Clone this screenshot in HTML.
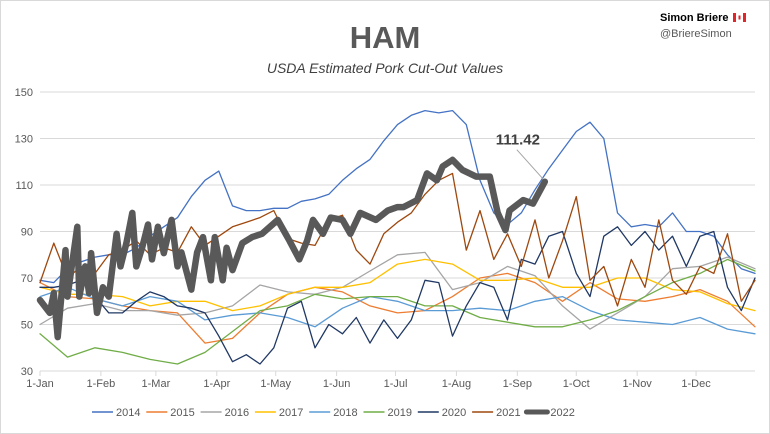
<!DOCTYPE html>
<html><head><meta charset="utf-8"><style>
body{margin:0;background:#fff;}
#wrap{position:relative;width:770px;height:434px;overflow:hidden;font-family:"Liberation Sans",sans-serif;}
</style></head><body>
<div id="wrap">
<svg id="chart" width="770" height="434">
<rect x="0.5" y="0.5" width="769" height="433" fill="#fff" stroke="#d9d9d9"/>
<text x="385" y="48" text-anchor="middle" font-size="31" font-weight="bold" fill="#595959">HAM</text>
<text x="385" y="73" text-anchor="middle" font-size="14" font-style="italic" fill="#404040">USDA Estimated Pork Cut-Out Values</text>
<text x="660" y="21" font-size="11" font-weight="bold" fill="#000">Simon Briere</text>
<g><rect x="733" y="13" width="13" height="9" fill="#fff"/><rect x="733" y="13" width="3" height="9" fill="#e0262b"/><rect x="743" y="13" width="3" height="9" fill="#e0262b"/><rect x="738.5" y="15.5" width="2" height="4" fill="#e0262b"/></g>
<text x="660" y="37" font-size="11" fill="#595959">@BriereSimon</text>
<g id="grid"></g><g id="series"></g><g id="legend"></g>
</svg>
</div>
<script>
const yTicks=[30,50,70,90,110,130,150];
const monthLabels=["1-Jan","1-Feb","1-Mar","1-Apr","1-May","1-Jun","1-Jul","1-Aug","1-Sep","1-Oct","1-Nov","1-Dec"];
const monthDays=[0,31,59,90,120,151,181,212,243,273,304,334];
const seriesNames=["2014","2015","2016","2017","2018","2019","2020","2021","2022"];
const v2014=[69,68,74,77,79,80,80,83,88,92,96,105,112,116,101,99,99,100,100,103,104,106,112,117,121,129,136,140,142,141,142,136,112,98,93,98,108,117,125,133,137,130,98,92,93,92,98,90,90,88,80,74,72];
const v2015=[68,62,61,58,56,55,42,44,55,63,66,64,58,55,56,62,70,72,68,60,68,61,60,62,65,60,49];
const v2016=[50,57,59,56,56,54,55,58,67,64,63,66,73,80,81,65,68,75,71,58,48,55,62,74,75,79,74];
const v2017=[66,63,63,62,58,60,60,56,58,63,66,66,68,76,78,76,69,69,70,66,66,70,70,65,64,59,56];
const v2018=[62,66,61,58,62,60,52,54,55,53,49,57,62,60,56,56,57,56,60,62,56,52,51,50,53,48,46];
const v2019=[46,36,40,38,35,33,38,47,56,58,63,61,62,62,58,58,53,51,49,49,52,56,62,68,72,78,73];
const v2020=[66,66,67,69,62,55,55,60,64,62,58,57,55,45,34,37,33,40,57,60,40,50,46,53,42,52,44,52,69,68,45,58,68,66,52,78,76,88,90,72,62,88,92,84,90,82,88,75,88,90,66,56,70];
const v2021=[68,85,70,75,72,80,82,86,80,83,81,92,84,88,92,94,96,99,87,85,84,95,97,82,76,89,94,98,106,112,115,82,99,78,89,75,95,70,86,105,69,75,58,78,66,95,69,63,75,72,89,60,69];
const days2022=[0,5,7,9,13,14,19,20,23,25,26,29,32,35,39,41,44,47,49,52,55,57,60,63,67,70,72,77,80,83,87,89,93,95,98,103,108,113,121,127,132,136,139,144,148,154,158,163,171,177,182,185,192,197,202,205,210,215,222,229,233,237,239,246,251,257];
const v2022=[60.5,55,63.5,44.6,82,62,92,62,75,63.5,80.7,55,66,62,89,75,85,98,75,83,93,78,92,80.7,95,75,81,65,81,87.6,69,87.6,69,83,73.4,85,87.6,89,95,86,78,86,95,89,96,95,89,98,95,99,100.5,100.5,103.5,115,112,118,120.8,116.5,113.6,113.6,98,90.6,99,103.5,102,111.42];
const colors=["#4472C4","#ED7D31","#A5A5A5","#FFC000","#5B9BD5","#70AD47","#203864","#9E480E","#595959"];
const x0=40,x1=755,yTop=92,yBot=371;
const xs=d=>x0+d*(x1-x0)/364;
const ys=v=>yBot-(v-30)*(yBot-yTop)/120;
const NS="http://www.w3.org/2000/svg";
function mk(t,a,p){const e=document.createElementNS(NS,t);for(const k in a)e.setAttribute(k,a[k]);p.appendChild(e);return e;}
const grid=document.getElementById('grid');
yTicks.forEach(v=>{
 const l=mk('line',{x1:x0,x2:x1,y1:ys(v),y2:ys(v),stroke:'#d9d9d9','stroke-width':1},grid);
 
 
 const t=mk('text',{x:33,y:ys(v)+4,'text-anchor':'end','font-size':11,fill:'#595959'},grid);
 t.textContent=v;
 
 
});
const ax=mk('line',{x1:x0,x2:x1,y1:yBot,y2:yBot,stroke:'#d9d9d9'},grid);


monthDays.forEach((d,i)=>{
 mk('line',{x1:xs(d),x2:xs(d),y1:yBot,y2:yBot+5,stroke:'#d9d9d9'},grid);
 const t=mk('text',{x:xs(d),y:yBot+16,'text-anchor':'middle','font-size':11,fill:'#595959'},grid);
 t.textContent=monthLabels[i];
 
 
});
const allVals=[v2014,v2015,v2016,v2017,v2018,v2019,v2020,v2021,v2022];
const sg=document.getElementById('series');
allVals.forEach((vals,i)=>{
 let dd;
 if(i===8) dd=days2022;
 else {const step=364/(vals.length-1);dd=vals.map((_,k)=>k*step);}
 const pts=vals.map((v,k)=>xs(dd[k]).toFixed(1)+','+ys(v).toFixed(1)).join(' ');
 const p=mk('polyline',{points:pts,fill:'none',stroke:colors[i],'stroke-width':i===8?6.5:1.3,'stroke-linejoin':'round','stroke-linecap':'round'},sg);
 
 
});
const lastD=days2022[days2022.length-1],lastV=v2022[v2022.length-1];
const ll=mk('line',{x1:xs(lastD)-2,y1:ys(lastV)-3,x2:xs(lastD)-28,y2:ys(lastV)-32,stroke:'#a5a5a5','stroke-width':1},sg);


const lt=mk('text',{x:xs(lastD)-27,y:ys(lastV)-37,'text-anchor':'middle','font-size':15,'font-weight':'bold',fill:'#404040'},sg);
lt.textContent=lastV.toFixed(2);


const lg=document.getElementById('legend');
seriesNames.forEach((n,i)=>{
 const bx=92+i*54.3;
 const g=mk('g',{},lg);
 
 
 mk('line',{x1:bx,x2:bx+21,y1:412,y2:412,stroke:colors[i],'stroke-width':i===8?5:1.5,'stroke-linecap':i===8?'round':'butt'},g);
 const t=mk('text',{x:bx+24,y:416,'font-size':11,fill:'#595959'},g);
 t.textContent=n;
});
</script>
</body></html>
